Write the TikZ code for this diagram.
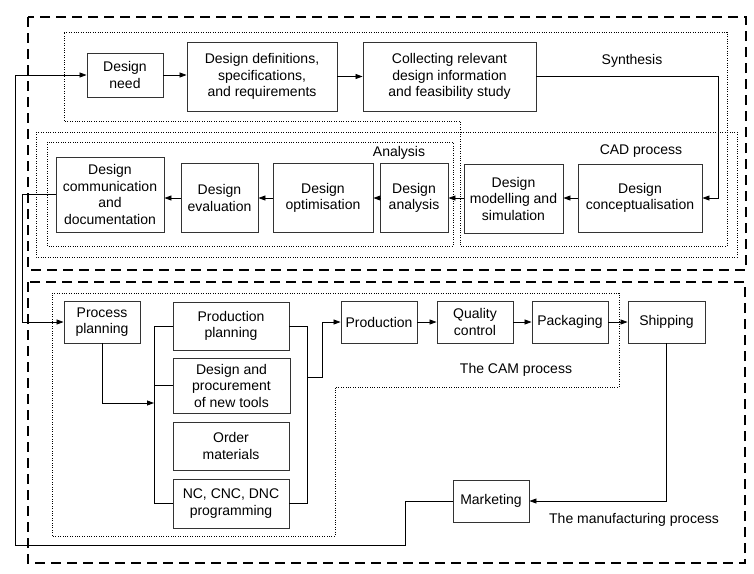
\documentclass[tikz,border=0pt]{standalone}
\usepackage{fontspec}
\setmainfont{Liberation Sans}
\usetikzlibrary{arrows.meta}
\begin{document}
\begin{tikzpicture}[x=1pt,y=-1pt,
  box/.style={draw=black!80, line width=0.9pt, align=center, inner sep=0pt, font=\fontsize{14}{16.5}\selectfont},
  lbl/.style={inner sep=0pt, font=\fontsize{14}{16.5}\selectfont},
  conn/.style={line width=0.8pt, -{Triangle[length=7pt,width=5pt]}},
  plainline/.style={line width=0.8pt},
  dashbox/.style={line width=1.8pt, dash pattern=on 10pt off 6pt},
  dotbox/.style={line width=0.6pt, dash pattern=on 0.8pt off 1.6pt}]
\useasboundingbox (0,0) rectangle (754,573);

% frames
\draw[dashbox] (28,17) rectangle (746,270);
\draw[dashbox] (28,282) rectangle (745,563);
\draw[dotbox] (64,32) -- (727,32) -- (727,246) -- (460,246) -- (460,121) -- (64,121) -- cycle;
\draw[dotbox] (36,132) rectangle (737,257);
\draw[dotbox] (47,142) rectangle (453,246);
\draw[dotbox] (52,293) -- (619,293) -- (619,387) -- (335,387) -- (335,536) -- (52,536) -- cycle;

% labels
\node[lbl] (synl) at (632,61) {Synthesis};
\node[lbl] (cadl) at (641,151) {CAD process};
\node[lbl] (anl) at (399,153) {Analysis};
\node[lbl] (caml) at (516,370) {The CAM process};
\node[lbl] (manl) at (634,520) {The manufacturing process};

% CAD nodes
\node[box, minimum width=76pt, minimum height=44pt] (need) at (125,75) {Design\\need};
\node[box, minimum width=150pt, minimum height=69pt] (defs) at (262,76.5) {Design definitions,\\specifications,\\and requirements};
\node[box, minimum width=173pt, minimum height=69pt] (coll) at (449.5,76.5) {Collecting relevant\\design information\\and feasibility study};
\node[box, minimum width=124pt, minimum height=68pt] (concept) at (640,198) {Design\\conceptualisation};
\node[box, minimum width=99pt, minimum height=69pt] (model) at (513.5,198.5) {Design\\modelling and\\simulation};
\node[box, minimum width=68pt, minimum height=69pt] (analysis) at (414,198) {Design\\analysis};
\node[box, minimum width=100pt, minimum height=69pt] (optim) at (323,198) {Design\\optimisation};
\node[box, minimum width=77pt, minimum height=69pt] (eval) at (219.5,198) {Design\\evaluation};
\node[box, minimum width=108pt, minimum height=75pt] (comm) at (110,194.5) {Design\\communication\\and\\documentation};

% CAM nodes
\node[box, minimum width=76pt, minimum height=42pt] (procplan) at (102,322) {Process\\planning};
\node[box, minimum width=116pt, minimum height=48pt] (prodplan) at (231,326) {Production\\planning};
\node[box, minimum width=117pt, minimum height=55pt] (desproc) at (231.5,385.5) {Design and\\procurement\\of new tools};
\node[box, minimum width=116pt, minimum height=48pt] (order) at (231,446) {Order\\materials};
\node[box, minimum width=116pt, minimum height=49pt] (nc) at (231,503.5) {NC, CNC, DNC\\programming};
\node[box, minimum width=76pt, minimum height=42pt] (prod) at (379,322) {Production};
\node[box, minimum width=76pt, minimum height=42pt] (qc) at (475,322) {Quality\\control};
\node[box, minimum width=76pt, minimum height=42pt] (pack) at (570,322) {Packaging};
\node[box, minimum width=77pt, minimum height=42pt] (ship) at (666.5,322) {Shipping};
\node[box, minimum width=76pt, minimum height=42pt] (mkt) at (491,501) {Marketing};

% helper coordinates
\coordinate (sx) at (718,0);
\coordinate (cx) at (22,0);
\coordinate (bl) at (154,403);
\coordinate (br) at (307,377);
\coordinate (bj) at (322,377);
\coordinate (m1) at (405,545);
\coordinate (m2) at (15,545);

% CAD connectors
\draw[conn] (need.east) -- (defs.west |- need.east);
\draw[conn] (defs.east) -- (coll.west);
\draw[conn] (coll.east) -- (coll.east -| sx) |- (concept.east);
\draw[conn] (concept.west) -- (model.east |- concept.west);
\draw[conn] (model.west |- concept.west) -- (analysis.east);
\draw[conn] (analysis.west) -- (optim.east);
\draw[conn] (optim.west) -- (eval.east);
\draw[conn] (eval.west) -- (eval.west -| comm.east);
\draw[conn] (comm.west) -- (comm.west -| cx) |- (procplan.west);

% CAM connectors
\draw[conn] (procplan.south) |- (bl);
\draw[plainline] (prodplan.west) -- (prodplan.west -| bl) -- (nc.west -| bl) -- (nc.west);
\draw[plainline] (desproc.west) -- (desproc.west -| bl);
\draw[plainline] (prodplan.east) -- (prodplan.east -| br) -- (nc.east -| br) -- (nc.east);
\draw[conn] (br) -- (bj) |- (prod.west);
\draw[conn] (prod.east) -- (qc.west);
\draw[conn] (qc.east) -- (pack.west);
\draw[conn] (pack.east) -- (ship.west);
\draw[conn] (ship.south) |- (mkt.east);
\draw[conn] (mkt.west) -| (m1) -- (m2) |- (need.west);
\end{tikzpicture}
\end{document}
